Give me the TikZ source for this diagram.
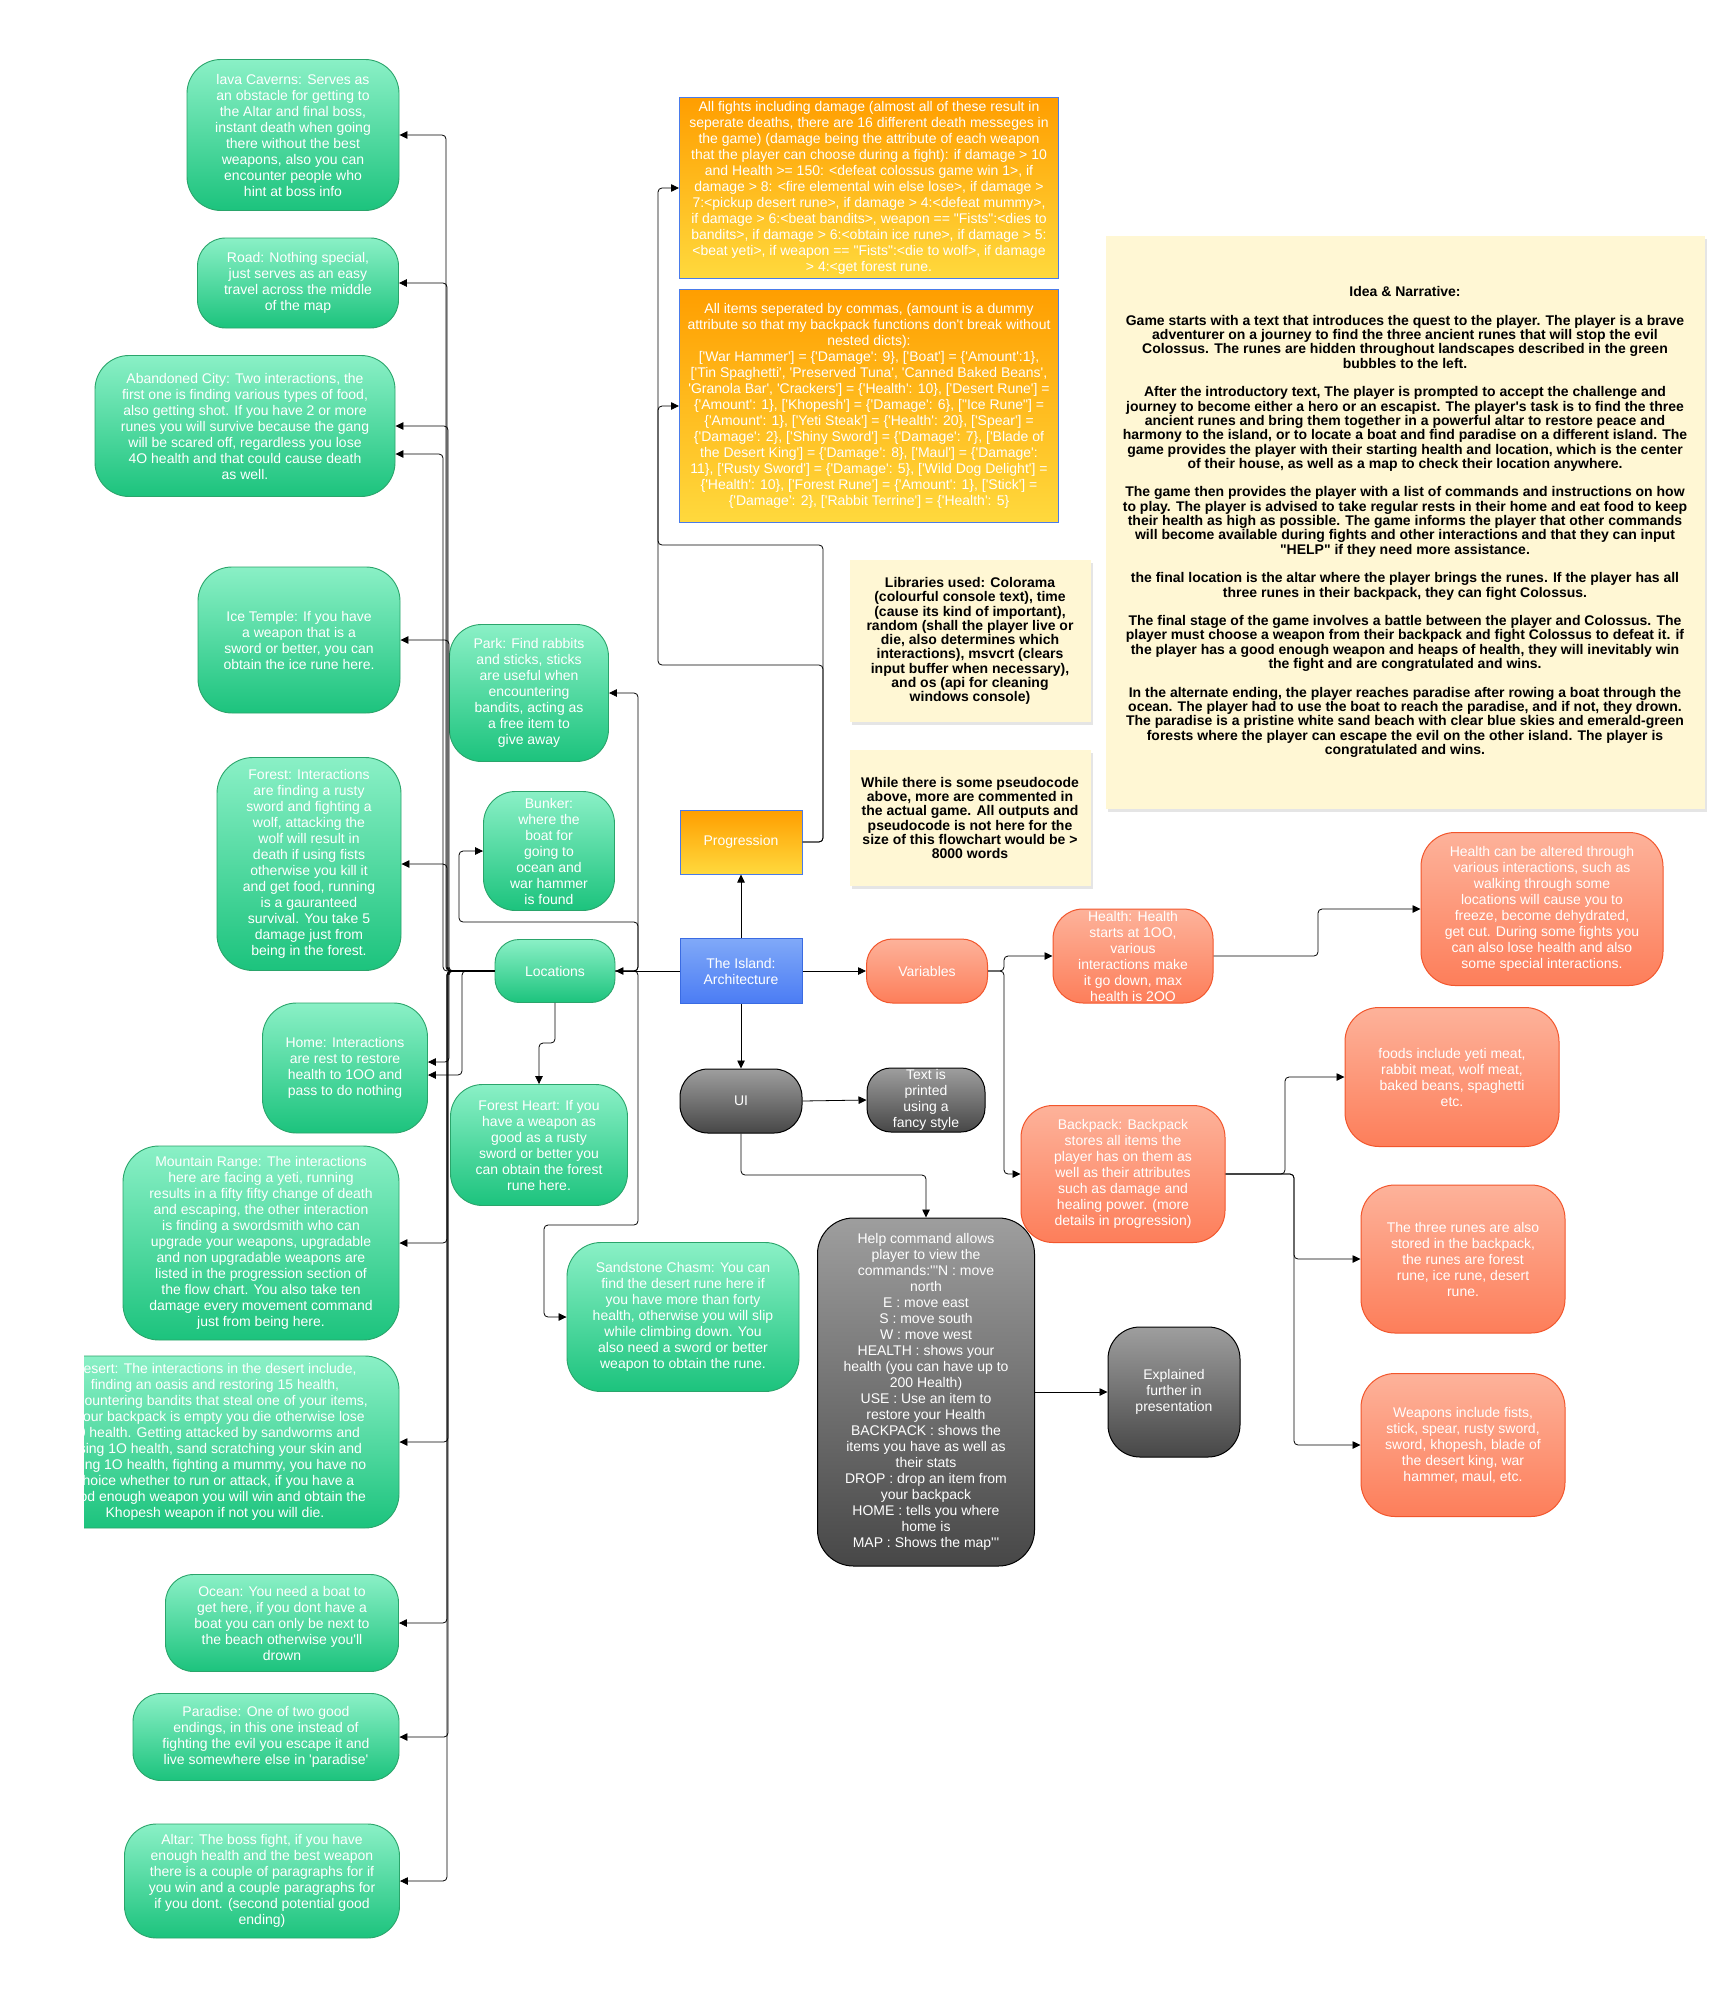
\documentclass[tikz,border=0pt]{standalone}
\usepackage{fontspec}
\newfontfamily\arialish{Liberation Sans}
\usetikzlibrary{arrows.meta,shadows}

\definecolor{loctop}{HTML}{8AF0C6}
\definecolor{locbot}{HTML}{1CC37D}
\definecolor{locline}{HTML}{2AA56B}
\definecolor{progtop}{HTML}{FF9E00}
\definecolor{progbot}{HTML}{FFD93D}
\definecolor{progline}{HTML}{4A7BEA}
\definecolor{isltop}{HTML}{80A9F8}
\definecolor{islbot}{HTML}{4B7CF4}
\definecolor{islline}{HTML}{3A6BE2}
\definecolor{vartop}{HTML}{FDB29A}
\definecolor{varbot}{HTML}{FD7E5A}
\definecolor{varline}{HTML}{F2562C}
\definecolor{uitop}{HTML}{9E9E9E}
\definecolor{uibot}{HTML}{474747}
\definecolor{notefill}{HTML}{FFF7D4}

\newcommand{\boxfont}{\arialish\fontsize{14}{16}\selectfont}
\newcommand{\notefont}{\arialish\bfseries\fontsize{14}{14.3}\selectfont}

\tikzset{
  every node/.style={align=center, inner sep=0pt},
  sz/.style 2 args={minimum width=#1pt, minimum height=#2pt},
  loc/.style={draw=locline, line width=0.9pt, top color=loctop, bottom color=locbot, rounded corners=28pt, text=white, font=\boxfont},
  prog/.style={draw=progline, line width=1pt, top color=progtop, bottom color=progbot, text=white, font=\boxfont},
  isl/.style={draw=islline, line width=1pt, top color=isltop, bottom color=islbot, text=white, font=\boxfont},
  var/.style={draw=varline, line width=1pt, top color=vartop, bottom color=varbot, rounded corners=30pt, text=white, font=\boxfont},
  ui/.style={draw=black, line width=1pt, top color=uitop, bottom color=uibot, rounded corners=28pt, text=white, font=\boxfont},
  note/.style={fill=notefill, font=\notefont, text=black, drop shadow={shadow xshift=2pt, shadow yshift=-3pt, opacity=0.2}},
  conn/.style={draw=black, line width=0.8pt, rounded corners=4pt, -{Triangle[length=8pt,width=7.5pt]}}
}

\begin{document}
\begin{tikzpicture}[x=1pt,y=-1pt]
\fill[white] (0,0) rectangle (1713,1999);
\useasboundingbox (0,0) rectangle (1713,1999);

\node[note, sz={599}{573}] (story) at (1405,522) {Idea \& Narrative:\\~\\Game starts with a text that introduces the quest to the player. The player is a brave\\adventurer on a journey to find the three ancient runes that will stop the evil\\Colossus. The runes are hidden throughout landscapes described in the green\\bubbles to the left.\\~\\After the introductory text, The player is prompted to accept the challenge and\\journey to become either a hero or an escapist. The player's task is to find the three\\ancient runes and bring them together in a powerful altar to restore peace and\\harmony to the island, or to locate a boat and find paradise on a different island. The\\game provides the player with their starting health and location, which is the center\\of their house, as well as a map to check their location anywhere.\\~\\The game then provides the player with a list of commands and instructions on how\\to play. The player is advised to take regular rests in their home and eat food to keep\\their health as high as possible. The game informs the player that other commands\\will become available during fights and other interactions and that they can input\\"HELP" if they need more assistance.\\~\\the final location is the altar where the player brings the runes. If the player has all\\three runes in their backpack, they can fight Colossus.\\~\\The final stage of the game involves a battle between the player and Colossus. The\\player must choose a weapon from their backpack and fight Colossus to defeat it. if\\the player has a good enough weapon and heaps of health, they will inevitably win\\the fight and are congratulated and wins.\\~\\In the alternate ending, the player reaches paradise after rowing a boat through the\\ocean. The player had to use the boat to reach the paradise, and if not, they drown.\\The paradise is a pristine white sand beach with clear blue skies and emerald-green\\forests where the player can escape the evil on the other island. The player is\\congratulated and wins.};
\node[note, sz={241}{162}] (libs) at (970,641) {Libraries used: Colorama\\(colourful console text), time\\(cause its kind of important),\\random (shall the player live or\\die, also determines which\\interactions), msvcrt (clears\\input buffer when necessary),\\and os (api for cleaning\\windows console)};
\node[note, sz={241}{136}] (pseudo) at (970,818) {While there is some pseudocode\\above, more are commented in\\the actual game. All outputs and\\pseudocode is not here for the\\size of this flowchart would be >\\8000 words};

\node[prog, sz={379}{181}] (fights) at (869,188) {All fights including damage (almost all of these result in\\seperate deaths, there are 16 different death messeges in\\the game) (damage being the attribute of each weapon\\that the player can choose during a fight): if damage > 10\\and Health >= 150: <defeat colossus game win 1>, if\\damage > 8: <fire elemental win else lose>, if damage >\\7:<pickup desert rune>, if damage > 4:<defeat mummy>,\\if damage > 6:<beat bandits>, weapon == "Fists":<dies to\\bandits>, if damage > 6:<obtain ice rune>, if damage > 5:\\<beat yeti>, if weapon == "Fists":<die to wolf>, if damage\\> 4:<get forest rune.};
\node[prog, sz={379}{233}] (items) at (869,406) {All items seperated by commas, (amount is a dummy\\attribute so that my backpack functions don't break without\\nested dicts):\\{}['War Hammer'] = \{'Damage': 9\}, ['Boat'] = \{'Amount':1\},\\{}['Tin Spaghetti', 'Preserved Tuna', 'Canned Baked Beans',\\'Granola Bar', 'Crackers'] = \{'Health': 10\}, ['Desert Rune'] =\\\{'Amount': 1\}, ['Khopesh'] = \{'Damage': 6\}, ["Ice Rune"] =\\\{'Amount': 1\}, ['Yeti Steak'] = \{'Health': 20\}, ['Spear'] =\\\{'Damage': 2\}, ['Shiny Sword'] = \{'Damage': 7\}, ['Blade of\\the Desert King'] = \{'Damage': 8\}, ['Maul'] = \{'Damage':\\11\}, ['Rusty Sword'] = \{'Damage': 5\}, ['Wild Dog Delight'] =\\\{'Health': 10\}, ['Forest Rune'] = \{'Amount': 1\}, ['Stick'] =\\\{'Damage': 2\}, ['Rabbit Terrine'] = \{'Health': 5\}};
\node[prog, sz={122}{64}] (prog) at (741,842) {Progression};
\node[isl, sz={122}{65}] (isl) at (741,971) {The Island:\\Architecture};
\node[ui, sz={122}{64}] (ui) at (741,1101) {UI};
\node[ui, sz={118}{64}, rounded corners=24pt] (printed) at (926,1100) {Text is\\printed\\using a\\fancy style};
\node[ui, sz={217}{348}, rounded corners=36pt] (help) at (926,1392) {Help command allows\\player to view the\\commands:'''N : move\\north\\E : move east\\S : move south\\W : move west\\HEALTH : shows your\\health (you can have up to\\200 Health)\\USE : Use an item to\\restore your Health\\BACKPACK : shows the\\items you have as well as\\their stats\\DROP : drop an item from\\your backpack\\HOME : tells you where\\home is\\MAP : Shows the map'''};
\node[ui, sz={132}{130}, rounded corners=32pt] (expl) at (1174,1392) {Explained\\further in\\presentation};

\node[var, sz={121}{64}, rounded corners=26pt] (var) at (927,971) {Variables};
\begin{scope}
\clip (1040,900) rectangle (1230,1003.5);
\node[var, sz={160}{94}] (health) at (1133,956) {Health: Health\\starts at 1OO,\\various\\interactions make\\it go down, max\\health is 2OO};
\end{scope}
\node[var, sz={242}{153}, rounded corners=34pt] (hlong) at (1542,909) {Health can be altered through\\various interactions, such as\\walking through some\\locations will cause you to\\freeze, become dehydrated,\\get cut. During some fights you\\can also lose health and also\\some special interactions.};
\node[var, sz={204}{137}, rounded corners=32pt] (pack) at (1123,1174) {Backpack: Backpack\\stores all items the\\player has on them as\\well as their attributes\\such as damage and\\healing power. (more\\details in progression)};
\node[var, sz={214}{139}, rounded corners=34pt] (foods) at (1452,1077) {foods include yeti meat,\\rabbit meat, wolf meat,\\baked beans, spaghetti\\etc.};
\node[var, sz={204}{148}, rounded corners=34pt] (runes) at (1463,1259) {The three runes are also\\stored in the backpack,\\the runes are forest\\rune, ice rune, desert\\rune.};
\node[var, sz={204}{143}, rounded corners=34pt] (weapons) at (1463,1445) {Weapons include fists,\\stick, spear, rusty sword,\\sword, khopesh, blade of\\the desert king, war\\hammer, maul, etc.};

\node[loc, sz={120}{63}, rounded corners=24pt] (loc) at (555,971) {Locations};
\node[loc, sz={159}{137}, rounded corners=32pt] (park) at (529,693) {Park: Find rabbits\\and sticks, sticks\\are useful when\\encountering\\bandits, acting as\\a free item to\\give away};
\node[loc, sz={131}{119}, rounded corners=32pt] (bunker) at (549,851) {Bunker:\\where the\\boat for\\going to\\ocean and\\war hammer\\is found};
\node[loc, sz={177}{121}, rounded corners=32pt] (fheart) at (539,1145) {Forest Heart: If you\\have a weapon as\\good as a rusty\\sword or better you\\can obtain the forest\\rune here.};
\node[loc, sz={232}{149}, rounded corners=34pt] (sand) at (683,1317) {Sandstone Chasm: You can\\find the desert rune here if\\you have more than forty\\health, otherwise you will slip\\while climbing down. You\\also need a sword or better\\weapon to obtain the rune.};

\node[loc, sz={212}{151}, rounded corners=34pt] (lava) at (293,135) {lava Caverns: Serves as\\an obstacle for getting to\\the Altar and final boss,\\instant death when going\\there without the best\\weapons, also you can\\encounter people who\\hint at boss info};
\node[loc, sz={201}{90}] (road) at (298,283) {Road: Nothing special,\\just serves as an easy\\travel across the middle\\of the map};
\node[loc, sz={300}{141}, rounded corners=34pt] (city) at (245,426) {Abandoned City: Two interactions, the\\first one is finding various types of food,\\also getting shot. If you have 2 or more\\runes you will survive because the gang\\will be scared off, regardless you lose\\4O health and that could cause death\\as well.};
\node[loc, sz={202}{146}, rounded corners=34pt] (ice) at (299,640) {Ice Temple: If you have\\a weapon that is a\\sword or better, you can\\obtain the ice rune here.};
\node[loc, sz={184}{213}, rounded corners=36pt] (forest) at (309,864) {Forest: Interactions\\are finding a rusty\\sword and fighting a\\wolf, attacking the\\wolf will result in\\death if using fists\\otherwise you kill it\\and get food, running\\is a gauranteed\\survival. You take 5\\damage just from\\being in the forest.};
\node[loc, sz={165}{130}, rounded corners=34pt] (home) at (345,1068) {Home: Interactions\\are rest to restore\\health to 1OO and\\pass to do nothing};
\node[loc, sz={276}{194}, rounded corners=36pt] (mountain) at (261,1243) {Mountain Range: The interactions\\here are facing a yeti, running\\results in a fifty fifty change of death\\and escaping, the other interaction\\is finding a swordsmith who can\\upgrade your weapons, upgradable\\and non upgradable weapons are\\listed in the progression section of\\the flow chart. You also take ten\\damage every movement command\\just from being here.};
\begin{scope}
\clip (84,1340) rectangle (420,1540);
\node[loc, sz={368}{172}, rounded corners=34pt] (desert) at (215,1442) {Desert: The interactions in the desert include,\\finding an oasis and restoring 15 health,\\encountering bandits that steal one of your items,\\if your backpack is empty you die otherwise lose\\10 health. Getting attacked by sandworms and\\losing 1O health, sand scratching your skin and\\losing 1O health, fighting a mummy, you have no\\choice whether to run or attack, if you have a\\good enough weapon you will win and obtain the\\Khopesh weapon if not you will die.};
\end{scope}
\node[loc, sz={233}{97}] (ocean) at (282,1623) {Ocean: You need a boat to\\get here, if you dont have a\\boat you can only be next to\\the beach otherwise you'll\\drown};
\node[loc, sz={266}{87}] (paradise) at (266,1737) {Paradise: One of two good\\endings, in this one instead of\\fighting the evil you escape it and\\live somewhere else in 'paradise'};
\node[loc, sz={275}{114}, rounded corners=32pt] (altar) at (262,1881) {Altar: The boss fight, if you have\\enough health and the best weapon\\there is a couple of paragraphs for if\\you win and a couple paragraphs for\\if you dont. (second potential good\\ending)};

\draw[conn] (isl.north) -- (prog.south);
\draw[conn] (isl.west) -- (loc.east);
\draw[conn] (isl.east) -- (var.west);
\draw[conn] (isl.south) -- (ui.north);
\draw[conn] (ui.east) -- (printed.west);
\draw[conn] (ui.south) |- (926,1175) -- (help.north);
\draw[conn] (help.east) -- (expl.west);
\draw[conn] (prog.east) -| (823,665) -| (658,188) -- (fights.west);
\draw[conn] (prog.east) -| (823,545) -| (658,406) -- (items.west);

\draw[conn] (var.east) -| (1004,956) -- (health.west);
\draw[conn] (var.east) -| (1004,1174) -- (pack.west);
\draw[conn] (health.east) -| (1318,909) -- (hlong.west);
\draw[conn] (pack.east) -| (1285,1077) -- (foods.west);
\draw[conn] (pack.east) -| (1294,1259) -- (runes.west);
\draw[conn] (pack.east) -| (1294,1445) -- (weapons.west);

\draw[conn] (loc.east) -| (638,693) -- (park.east);
\draw[conn] (loc.east) -| (638,922) -| (459,851) -- (bunker.west);
\draw[conn] (loc.east) -| (638,1225) -| (544,1317) -- (sand.west);
\draw[conn] (loc.south) |- (539,1043) -- (fheart.north);

\draw[conn] (loc.west) -| (446,135) -- (lava.east);
\draw[conn] (loc.west) -| (447,283) -- (road.east);
\draw[conn] (loc.west) -| (448,426) -- (city.east);
\draw[conn] (loc.west) -| (443,454) -- ([yshift=-28pt]city.east);
\draw[conn] (loc.west) -| (449,640) -- (ice.east);
\draw[conn] (loc.west) -| (447,864) -- (forest.east);
\draw[conn] (loc.west) -| (449,1062) -- ([yshift=6pt]home.east);
\draw[conn] (loc.west) -| (462,1075) -- ([yshift=-7pt]home.east);
\draw[conn] (loc.west) -| (447,1243) -- (mountain.east);
\draw[conn] (loc.west) -| (448,1442) -- (desert.east);
\draw[conn] (loc.west) -| (447,1623) -- (ocean.east);
\draw[conn] (loc.west) -| (448,1737) -- (paradise.east);
\draw[conn] (loc.west) -| (447,1881) -- (altar.east);
\end{tikzpicture}
\end{document}
